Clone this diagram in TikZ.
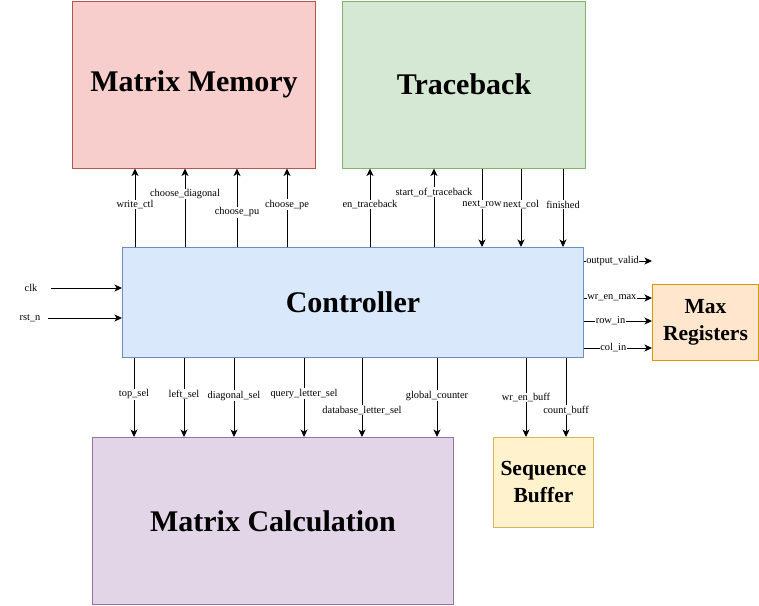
\documentclass[tikz,border=0pt]{standalone}
\usepackage{fontspec}
\setmainfont{Liberation Serif}
\usetikzlibrary{arrows.meta}
\definecolor{mmfill}{HTML}{F8CECC}\definecolor{mmdraw}{HTML}{B85450}
\definecolor{tbfill}{HTML}{D5E8D4}\definecolor{tbdraw}{HTML}{82B366}
\definecolor{ctfill}{HTML}{DAE8FC}\definecolor{ctdraw}{HTML}{6C8EBF}
\definecolor{mrfill}{HTML}{FFE6CC}\definecolor{mrdraw}{HTML}{D79B00}
\definecolor{sbfill}{HTML}{FFF2CC}\definecolor{sbdraw}{HTML}{D6B656}
\definecolor{mcfill}{HTML}{E1D5E7}\definecolor{mcdraw}{HTML}{9673A6}
\begin{document}
\begin{tikzpicture}[x=1pt,y=-1pt,
  blk/.style={draw, line width=1pt, inner sep=0pt, anchor=north west, align=center,
    font=\bfseries\fontsize{30}{32}\selectfont},
  smallblk/.style={blk, font=\bfseries\fontsize{21.5}{27}\selectfont},
  sig/.style={draw=black, line width=1pt, -{Stealth[length=7.5pt,width=7pt,inset=2pt]}},
  lbl/.style={fill=white, inner sep=0.6pt, font=\fontsize{10.4}{11}\selectfont},
  plain/.style={inner sep=0.6pt, font=\fontsize{10.4}{11}\selectfont}]
\useasboundingbox (0,0) rectangle (759,605);

\node[blk, fill=mmfill, draw=mmdraw, minimum width=243pt, minimum height=167pt] (mm) at (72,0.5) {Matrix Memory};
\node[blk, fill=tbfill, draw=tbdraw, minimum width=243pt, minimum height=167pt] (tb) at (342,0.5) {Traceback};
\node[blk, fill=ctfill, draw=ctdraw, minimum width=461pt, minimum height=110pt] (ct) at (122,247) {Controller};
\node[smallblk, fill=mrfill, draw=mrdraw, minimum width=106pt, minimum height=76pt] (mr) at (652,284) {Max\\Registers};
\node[smallblk, fill=sbfill, draw=sbdraw, minimum width=100pt, minimum height=90pt] (sb) at (493,437) {Sequence\\Buffer};
\node[blk, fill=mcfill, draw=mcdraw, minimum width=361pt, minimum height=167pt] (mc) at (92,437) {Matrix Calculation};

% Controller -> Matrix Memory
\draw[sig] (ct.north -| 135,0) -- node[lbl, pos=0.54]{write\_ctl} (mm.south -| 135,0);
\draw[sig] (ct.north -| 185,0) -- node[lbl, pos=0.675]{choose\_diagonal} (mm.south -| 185,0);
\draw[sig] (ct.north -| 237,0) -- node[lbl, pos=0.44]{choose\_pu} (mm.south -| 237,0);
\draw[sig] (ct.north -| 287,0) -- node[lbl, pos=0.54]{choose\_pe} (mm.south -| 287,0);

% Controller <-> Traceback
\draw[sig] (ct.north -| 370,0) -- node[lbl, pos=0.54]{en\_traceback} (tb.south -| 370,0);
\draw[sig] (ct.north -| 434,0) -- node[lbl, pos=0.7]{start\_of\_traceback} (tb.south -| 434,0);
\draw[sig] (tb.south -| 482,0) -- node[lbl, pos=0.46]{next\_row} (ct.north -| 482,0);
\draw[sig] (tb.south -| 521,0) -- node[lbl, pos=0.46]{next\_col} (ct.north -| 521,0);
\draw[sig] (tb.south -| 563,0) -- node[lbl, pos=0.46]{finished} (ct.north -| 563,0);

% Inputs
\node[plain] (clk) at (31,288) {clk};
\node[plain] (rst) at (30,318) {rst\_n};
\draw[sig] ([xshift=13pt]clk.east) -- (clk -| ct.west);
\draw[sig] ([xshift=7pt]rst.east) -- (rst -| ct.west);

% Outputs
\coordinate (ov) at (652,261);
\draw[sig] (ov -| ct.east) -- node[lbl, pos=0.42]{output\_valid} (ov);
\draw[sig] (ct.east |- 0,298) -- node[lbl, pos=0.41]{wr\_en\_max} (mr.west |- 0,298);
\draw[sig] (ct.east |- 0,321) -- node[lbl, pos=0.39]{row\_in} (mr.west |- 0,321);
\draw[sig] (ct.east |- 0,348) -- node[lbl, pos=0.43]{col\_in} (mr.west |- 0,348);

% Controller -> Matrix Calculation
\draw[sig] (ct.south -| 134,0) -- node[lbl, pos=0.46]{top\_sel} (mc.north -| 134,0);
\draw[sig] (ct.south -| 184,0) -- node[lbl, pos=0.46]{left\_sel} (mc.north -| 184,0);
\draw[sig] (ct.south -| 234,0) -- node[lbl, pos=0.475]{diagonal\_sel} (mc.north -| 234,0);
\draw[sig] (ct.south -| 304,0) -- node[lbl, pos=0.45]{query\_letter\_sel} (mc.north -| 304,0);
\draw[sig] (ct.south -| 362,0) -- node[lbl, pos=0.66]{database\_letter\_sel} (mc.north -| 362,0);
\draw[sig] (ct.south -| 437,0) -- node[lbl, pos=0.475]{global\_counter} (mc.north -| 437,0);

% Controller -> Sequence Buffer
\draw[sig] (ct.south -| 526,0) -- node[lbl, pos=0.5]{wr\_en\_buff} (sb.north -| 526,0);
\draw[sig] (ct.south -| 566,0) -- node[lbl, pos=0.66]{count\_buff} (sb.north -| 566,0);
\end{tikzpicture}
\end{document}
